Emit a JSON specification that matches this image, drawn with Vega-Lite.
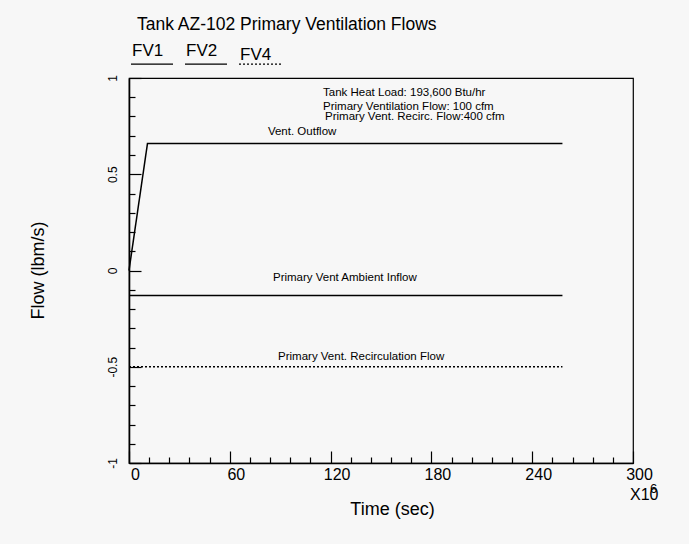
{
  "$schema": "https://vega.github.io/schema/vega-lite/v6.json",
  "width": 504,
  "height": 385,
  "autosize": "none",
  "padding": {"left": 129, "top": 78, "right": 56, "bottom": 81},
  "background": "#f7f7f7",
  "config": {
    "font": "Liberation Sans",
    "view": {"stroke": "#000", "strokeWidth": 1.2},
    "axis": {"grid": false, "domainColor": "#000", "tickColor": "#000", "labelColor": "#000", "titleColor": "#000", "titleFontWeight": "normal", "domainWidth": 1.6, "tickWidth": 1.2, "labelOverlap": false, "labelFlush": false}
  },
  "title": {"text": "Tank AZ-102 Primary Ventilation Flows", "anchor": "start", "frame": "group", "dx": 8, "offset": 9, "fontSize": 17.5, "fontWeight": "normal", "color": "#000"},
  "layer": [
    {
      "data": {"values": [
        {"series": "FV1", "t": 0, "flow": 0.0},
        {"series": "FV1", "t": 11, "flow": 0.66},
        {"series": "FV1", "t": 258, "flow": 0.66},
        {"series": "FV2", "t": 0, "flow": -0.13},
        {"series": "FV2", "t": 258, "flow": -0.13},
        {"series": "FV4", "t": 0, "flow": -0.5},
        {"series": "FV4", "t": 258, "flow": -0.5}
      ]},
      "mark": {"type": "line", "color": "#000", "strokeWidth": 1.5},
      "encoding": {
        "x": {"field": "t", "type": "quantitative", "scale": {"domain": [0, 300], "nice": false},
          "axis": {"values": [0,12,24,36,48,60,72,84,96,108,120,132,144,156,168,180,192,204,216,228,240,252,264,276,288,300],
            "tickCount": 200,
            "labelExpr": "datum.value % 60 === 0 ? '' + datum.value : ''",
            "tickSize": {"condition": {"test": "datum.value % 60 === 0", "value": -12}, "value": -6},
            "labelOverlap": false, "labelFlush": false,
            "labelFontSize": 16, "labelOffset": 6, "labelPadding": 15,
            "title": "Time (sec)", "titleFontSize": 18, "titleX": 263, "titleY": 46, "titleBaseline": "middle"}},
        "y": {"field": "flow", "type": "quantitative", "scale": {"domain": [-1, 1], "nice": false},
          "axis": {"values": [-1,-0.9,-0.8,-0.7,-0.6,-0.5,-0.4,-0.3,-0.2,-0.1,0,0.1,0.2,0.3,0.4,0.5,0.6,0.7,0.8,0.9,1],
            "tickCount": 200,
            "labelExpr": "abs(datum.value*2 - round(datum.value*2)) < 0.001 ? '' + datum.value : ''",
            "tickSize": {"condition": {"test": "abs(datum.value*2 - round(datum.value*2)) < 0.001", "value": -12}, "value": -6},
            "labelOverlap": false, "labelFlush": false,
            "labelAngle": -90, "labelFontSize": 12, "labelPadding": 22,
            "title": "Flow (lbm/s)", "titleFontSize": 18, "titleX": -91, "titleY": 192, "titleBaseline": "middle"}},
        "strokeDash": {"field": "series", "type": "nominal",
          "scale": {"domain": ["FV1", "FV2", "FV4"], "range": [[1, 0], [1, 0], [2, 2]]},
          "legend": {"orient": "none", "legendX": 1, "legendY": -36, "direction": "horizontal", "title": null, "padding": 0,
            "symbolType": "stroke", "symbolSize": 1764, "symbolStrokeWidth": 1.3, "symbolStrokeColor": "#000",
            "labelFontSize": 17, "labelColor": "#000", "labelOffset": -42, "labelBaseline": "alphabetic", "columnPadding": 6,
            "encode": {
              "labels": {"update": {"dy": [{"test": "datum.value === 'FV4'", "value": -4}, {"value": -8}]}},
              "symbols": {"update": {"strokeDash": [{"test": "datum.value === 'FV2'", "value": [6, 4]}, {"test": "datum.value === 'FV4'", "value": [2, 2]}, {"value": [1, 0]}]}}
            }}}
      }
    },
    {
      "data": {"values": [
        {"t": 115.5, "flow": 0.906, "label": "Tank Heat Load: 193,600 Btu/hr"},
        {"t": 115.5, "flow": 0.834, "label": "Primary Ventilation Flow: 100 cfm"},
        {"t": 116.7, "flow": 0.782, "label": "Primary Vent. Recirc. Flow:400 cfm"},
        {"t": 82.7, "flow": 0.704, "label": "Vent. Outflow"},
        {"t": 85.7, "flow": -0.055, "label": "Primary Vent Ambient Inflow"},
        {"t": 88.7, "flow": -0.465, "label": "Primary Vent. Recirculation Flow"}
      ]},
      "mark": {"type": "text", "align": "left", "baseline": "alphabetic", "fontSize": 11.5, "color": "#000"},
      "encoding": {
        "x": {"field": "t", "type": "quantitative"},
        "y": {"field": "flow", "type": "quantitative"},
        "text": {"field": "label"}
      }
    },
    {
      "data": {"values": [{"t": 300, "flow": -1, "label": "X10"}]},
      "mark": {"type": "text", "align": "left", "baseline": "alphabetic", "fontSize": 16, "color": "#000", "dx": -3, "dy": 37},
      "encoding": {
        "x": {"field": "t", "type": "quantitative"},
        "y": {"field": "flow", "type": "quantitative"},
        "text": {"field": "label"}
      }
    },
    {
      "data": {"values": [{"t": 300, "flow": -1, "label": "6"}]},
      "mark": {"type": "text", "align": "left", "baseline": "alphabetic", "fontSize": 13, "color": "#000", "dx": 17, "dy": 30},
      "encoding": {
        "x": {"field": "t", "type": "quantitative"},
        "y": {"field": "flow", "type": "quantitative"},
        "text": {"field": "label"}
      }
    }
  ]
}
